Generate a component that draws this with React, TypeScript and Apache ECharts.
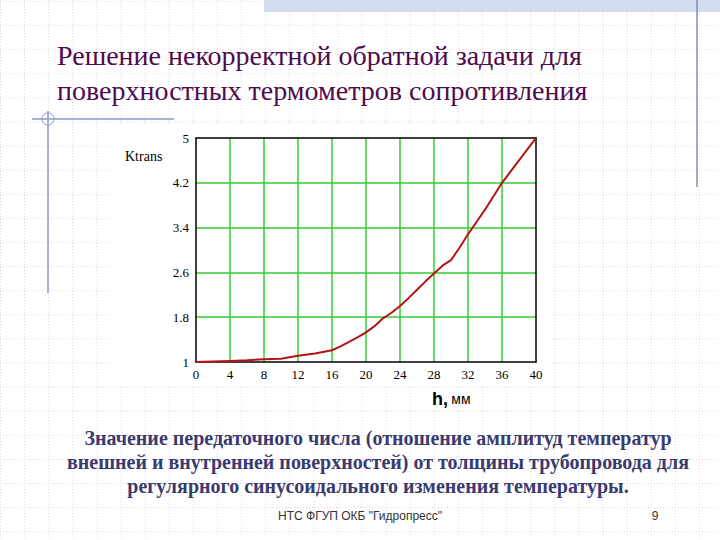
import React, { useEffect, useRef } from "react";
import * as echarts from "echarts";

const titleLines = [
  "Решение некорректной обратной задачи для",
  "поверхностных термометров сопротивления",
];
const captionLines = [
  "Значение передаточного числа (отношение амплитуд температур",
  "внешней и внутренней поверхностей) от толщины трубопровода для",
  "регулярного синусоидального изменения температуры.",
];
const footerText = 'НТС ФГУП ОКБ "Гидропресс"';
const pageNumber = "9";
const yAxisTitle = "Ktrans";
const xAxisTitleMain = "h,";
const xAxisTitleUnit = "мм";

const thickness = [0, 2, 4, 6, 8, 10, 12, 14, 16, 17, 18, 19, 20, 21, 22, 23, 24, 25, 26, 27, 28, 29, 30, 31, 32, 33, 34, 35, 36, 37, 38, 39, 40];
const ktrans = [1.0, 1.01, 1.02, 1.03, 1.05, 1.06, 1.11, 1.15, 1.21, 1.28, 1.36, 1.44, 1.53, 1.64, 1.78, 1.88, 2.0, 2.14, 2.29, 2.44, 2.58, 2.72, 2.82, 3.04, 3.28, 3.5, 3.72, 3.96, 4.2, 4.4, 4.6, 4.8, 5.0];

const X_MIN = 0, X_MAX = 40, X_STEP = 4;
const Y_MIN = 1, Y_MAX = 5, Y_STEP = 0.8;

const SERIF = "Liberation Serif";

export default function App() {
  const ref = useRef<HTMLDivElement>(null);
  useEffect(() => {
    if (!ref.current) return;
    const chart = echarts.init(ref.current, null, { renderer: "svg" });

    const bg: any[] = [];
    const step = 24.1;
    for (let i = 0; i * step <= 720; i++) {
      bg.push({ type: "line", z: 0, silent: true, shape: { x1: i * step + 0.5, y1: 0, x2: i * step + 0.5, y2: 540 }, style: { stroke: "#dcdcdc", lineWidth: 1, lineDash: [1, 2] } });
    }
    for (let j = 0; j * step <= 540; j++) {
      bg.push({ type: "line", z: 0, silent: true, shape: { x1: 0, y1: j * step + 1.5, x2: 720, y2: j * step + 1.5 }, style: { stroke: "#dcdcdc", lineWidth: 1, lineDash: [1, 2] } });
    }

    const deco: any[] = [
      { type: "rect", z: 1, silent: true, shape: { x: 264, y: 0, width: 456, height: 12 }, style: { fill: "#d3ddef" } },
      { type: "line", z: 2, silent: true, shape: { x1: 697, y1: 0, x2: 697, y2: 187 }, style: { stroke: "#7f8cb8", lineWidth: 1.5 } },
      { type: "line", z: 2, silent: true, shape: { x1: 32, y1: 119, x2: 174, y2: 119 }, style: { stroke: "#8c98c8", lineWidth: 1.5 } },
      { type: "line", z: 2, silent: true, shape: { x1: 48, y1: 111, x2: 48, y2: 293 }, style: { stroke: "#8c98c8", lineWidth: 1.5 } },
      { type: "circle", z: 2, silent: true, shape: { cx: 48, cy: 119, r: 6 }, style: { stroke: "#8c98c8", fill: "none", lineWidth: 1 } },
      { type: "rect", z: 1, silent: true, shape: { x: 110, y: 126, width: 440, height: 260 }, style: { fill: "#ffffff" } },
      {
        type: "text", z: 3, x: 57, y: 38,
        style: { text: titleLines.join("\n"), fontFamily: SERIF, fontSize: 28, fill: "#4e0b4e", lineHeight: 35 },
      },
      {
        type: "text", z: 3, x: 125, y: 149,
        style: { text: yAxisTitle, fontFamily: SERIF, fontSize: 14, fill: "#000" },
      },
      {
        type: "text", z: 3, x: 432, y: 390,
        style: {
          text: "{a|" + xAxisTitleMain + "} {b|" + xAxisTitleUnit + "}",
          rich: {
            a: { fontFamily: "Liberation Sans", fontWeight: "bold", fontSize: 18, fill: "#000" },
            b: { fontFamily: "Liberation Sans", fontSize: 14, fill: "#000" },
          },
        },
      },
      {
        type: "text", z: 3, x: 378, y: 426,
        style: { text: captionLines.join("\n"), fontFamily: SERIF, fontWeight: "bold", fontSize: 20, fill: "#3a3a6e", lineHeight: 24, align: "center" },
      },
      {
        type: "text", z: 3, x: 360, y: 510,
        style: { text: footerText, fontFamily: "Liberation Sans", fontSize: 12, fill: "#333", align: "center" },
      },
      {
        type: "text", z: 3, x: 655, y: 510,
        style: { text: pageNumber, fontFamily: "Liberation Sans", fontSize: 12, fill: "#333", align: "center" },
      },
    ];

    const labelFont = { fontFamily: SERIF, fontSize: 13, color: "#000" };
    const green = { show: true, showMinLine: false, showMaxLine: false, lineStyle: { color: "#33cc33", width: 1.5 } };

    chart.setOption({
      animation: false,
      backgroundColor: "transparent",
      graphic: [...bg, ...deco],
      grid: { left: 196, right: 184, top: 138, bottom: 178, containLabel: false },
      xAxis: [
        {
          type: "value", min: X_MIN, max: X_MAX, interval: X_STEP, z: 5,
          axisLine: { show: true, onZero: false, lineStyle: { color: "#000", width: 1.5 } },
          axisTick: { show: false },
          axisLabel: { ...labelFont, margin: 6, formatter: (v: number) => String(v) },
          splitLine: green,
        },
        {
          type: "value", position: "top", min: X_MIN, max: X_MAX, interval: X_STEP, z: 5,
          axisLine: { show: true, onZero: false, lineStyle: { color: "#000", width: 1.5 } },
          axisTick: { show: false }, axisLabel: { show: false }, splitLine: { show: false },
        },
      ],
      yAxis: [
        {
          type: "value", min: Y_MIN, max: Y_MAX, interval: Y_STEP, z: 5,
          axisLine: { show: true, onZero: false, lineStyle: { color: "#000", width: 1.5 } },
          axisTick: { show: false },
          axisLabel: { ...labelFont, margin: 7, formatter: (v: number) => String(Math.round(v * 10) / 10) },
          splitLine: green,
        },
        {
          type: "value", position: "right", min: Y_MIN, max: Y_MAX, interval: Y_STEP, z: 5,
          axisLine: { show: true, onZero: false, lineStyle: { color: "#000", width: 1.5 } },
          axisTick: { show: false }, axisLabel: { show: false }, splitLine: { show: false },
        },
      ],
      series: [
        {
          type: "line",
          xAxisIndex: 0,
          yAxisIndex: 0,
          z: 10,
          data: thickness.map((h, i) => [h, ktrans[i]]),
          showSymbol: false,
          lineStyle: { color: "#b41414", width: 2 },
        },
      ],
    });
    return () => chart.dispose();
  }, []);
  return (
    <div
      ref={ref}
      style={{ position: "fixed", left: 0, top: 0, width: 720, height: 540, background: "#fff" }}
    />
  );
}
